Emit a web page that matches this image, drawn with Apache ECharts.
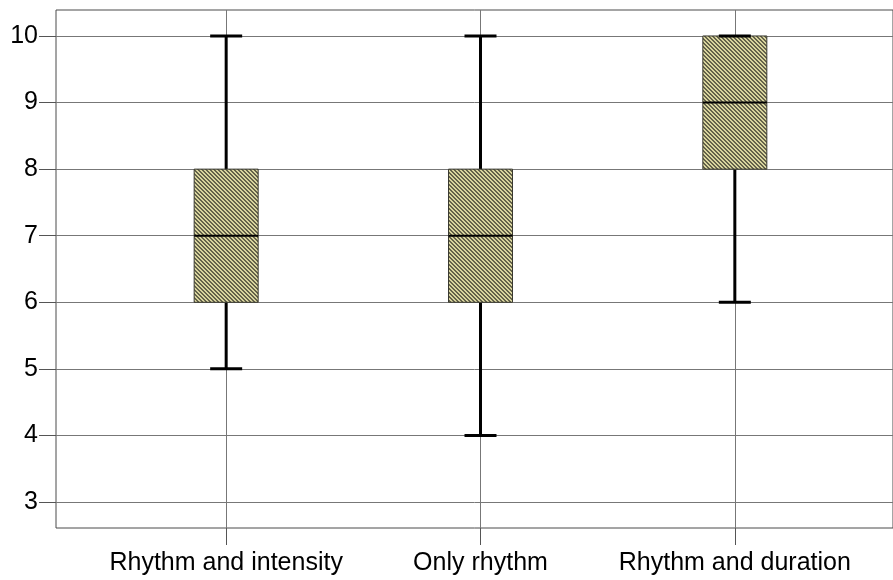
<!DOCTYPE html>
<html>
<head>
<meta charset="utf-8">
<script src="https://cdn.jsdelivr.net/npm/echarts@6/dist/echarts.min.js"></script>
<style>
  html, body { margin: 0; padding: 0; background: #fff; }
  #chart { width: 893px; height: 580px; }
</style>
</head>
<body>
<div id="chart"></div>
<script>
// box plot values
const categories = ['Rhythm and intensity', 'Only rhythm', 'Rhythm and duration'];
const lowWhisker = [5, 4, 6];
const q1 = [6, 6, 8];
const medians = [7, 7, 9];
const q3 = [8, 8, 10];
const highWhisker = [10, 10, 10];
const yTicks = [3, 4, 5, 6, 7, 8, 9, 10];
const yMin = 2.61;
const yMax = 10.39;

const FONT = 'Liberation Sans, Arial, sans-serif';

// diagonal hatch fill for the boxes
function makeHatch() {
  const c = document.createElement('canvas');
  c.width = 4;
  c.height = 4;
  const ctx = c.getContext('2d');
  ctx.fillStyle = '#d8d49e';
  ctx.fillRect(0, 0, 4, 4);
  ctx.fillStyle = '#64624a';
  for (let y = 0; y < 4; y++) {
    ctx.fillRect(y % 4, y, 1, 1);
    ctx.fillRect((y + 1) % 4, y, 1, 1);
  }
  return { image: c, repeat: 'repeat' };
}
const hatch = makeHatch();

const boxData = categories.map((c, i) => [i, lowWhisker[i], q1[i], medians[i], q3[i], highWhisker[i]]);

function renderBox(params, api) {
  const i = api.value(0);
  const pLow = api.coord([i, api.value(1)]);
  const pQ1 = api.coord([i, api.value(2)]);
  const pMed = api.coord([i, api.value(3)]);
  const pQ3 = api.coord([i, api.value(4)]);
  const pHigh = api.coord([i, api.value(5)]);
  const x = pMed[0];
  const boxHalf = 32;
  const capHalf = 16;
  const whisker = { stroke: '#000', lineWidth: 3 };
  return {
    type: 'group',
    children: [
      { type: 'line', shape: { x1: x, y1: pHigh[1], x2: x, y2: pQ3[1] }, style: whisker },
      { type: 'line', shape: { x1: x, y1: pQ1[1], x2: x, y2: pLow[1] }, style: whisker },
      {
        type: 'rect',
        shape: { x: x - boxHalf, y: pQ3[1], width: boxHalf * 2, height: pQ1[1] - pQ3[1] },
        style: { fill: hatch, stroke: '#3a3a30', lineWidth: 1 }
      },
      { type: 'line', shape: { x1: x - boxHalf, y1: pMed[1], x2: x + boxHalf, y2: pMed[1] }, style: { stroke: '#000', lineWidth: 2 } },
      { type: 'line', shape: { x1: x - capHalf, y1: pHigh[1], x2: x + capHalf, y2: pHigh[1] }, style: whisker },
      { type: 'line', shape: { x1: x - capHalf, y1: pLow[1], x2: x + capHalf, y2: pLow[1] }, style: whisker }
    ]
  };
}

const myChart = echarts.init(document.getElementById('chart'));
const option = {
  animation: false,
  backgroundColor: '#fff',
  grid: [
    // frame + y axis
    { left: 56, right: -2, top: 10, bottom: 52, show: true, borderColor: '#4a4a4a', borderWidth: 1, backgroundColor: '#fff' },
    // category layout
    { left: 99, right: 31, top: 10, bottom: 52 }
  ],
  xAxis: [
    { gridIndex: 0, type: 'value', min: 0, max: 1, show: false },
    {
      gridIndex: 1,
      type: 'category',
      position: 'bottom',
      data: categories,
      boundaryGap: true,
      axisLine: { show: false },
      axisTick: { show: true, interval: 0, alignWithLabel: true, length: 17, lineStyle: { color: '#555' } },
      axisLabel: { interval: 0, hideOverlap: false, fontSize: 25, color: '#000', margin: 23, fontFamily: FONT }
    },
    {
      gridIndex: 1,
      type: 'category',
      position: 'top',
      data: categories,
      boundaryGap: true,
      axisLine: { show: false },
      axisLabel: { show: false },
      axisTick: { show: true, interval: 0, alignWithLabel: true, inside: true, length: 518, lineStyle: { color: '#777' } }
    }
  ],
  yAxis: [
    {
      gridIndex: 0,
      type: 'value',
      min: yMin,
      max: yMax,
      axisLine: { show: false },
      axisTick: { show: true, length: 17, customValues: yTicks, lineStyle: { color: '#555' } },
      axisLabel: { customValues: yTicks, fontSize: 25, color: '#000', margin: 18, fontFamily: FONT },
      splitLine: { show: true, lineStyle: { color: '#777', width: 1 } }
    },
    { gridIndex: 1, type: 'value', min: yMin, max: yMax, show: false }
  ],
  series: [
    {
      type: 'custom',
      xAxisIndex: 1,
      yAxisIndex: 1,
      renderItem: renderBox,
      encode: { x: 0, y: [1, 2, 3, 4, 5] },
      data: boxData,
      z: 5
    }
  ]
};
myChart.setOption(option);
</script>
</body>
</html>
